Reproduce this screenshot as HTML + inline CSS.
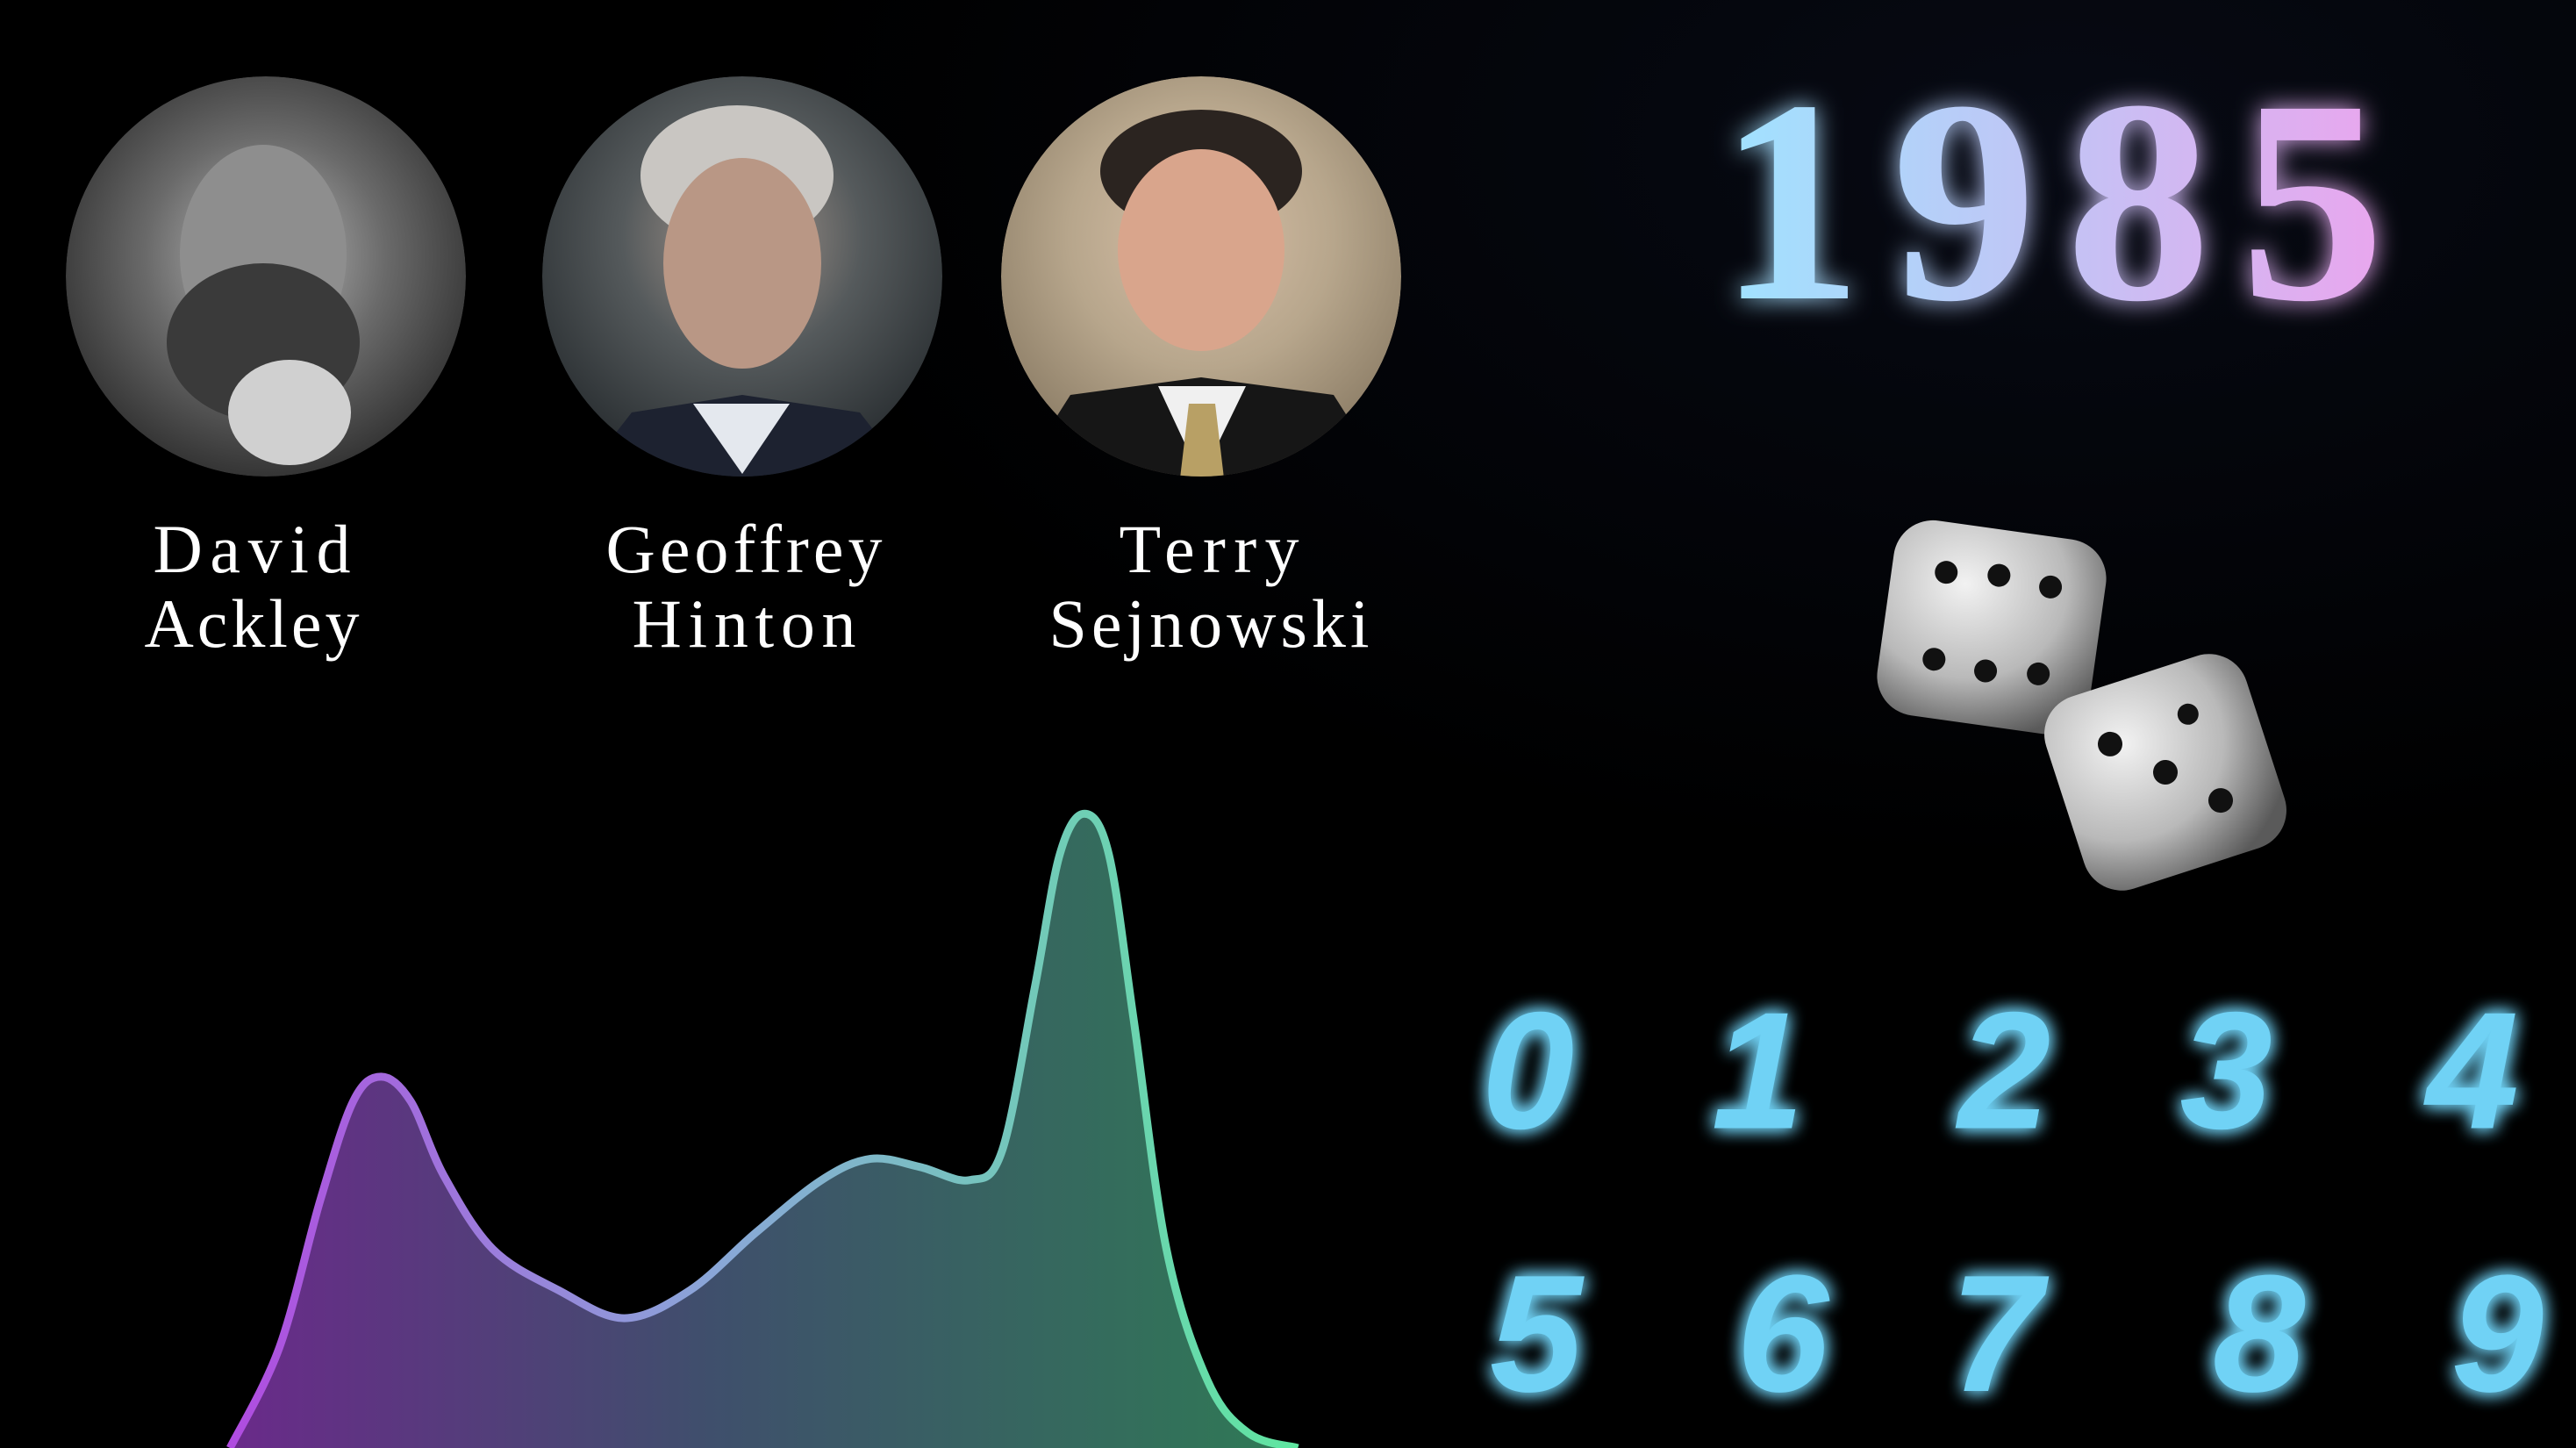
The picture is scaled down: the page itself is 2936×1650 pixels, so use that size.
<!DOCTYPE html>
<html><head><meta charset="utf-8">
<style>
html,body{margin:0;padding:0;background:#000;}
body{width:2936px;height:1650px;overflow:hidden;position:relative;font-family:"Liberation Serif",serif;}
svg{position:absolute;left:0;top:0;}
</style></head>
<body>
<svg width="2936" height="1650" viewBox="0 0 2936 1650">
<defs>
  <radialGradient id="bgGlow" cx="0.8" cy="0.1" r="0.5">
    <stop offset="0" stop-color="#070a14"/><stop offset="1" stop-color="#000"/>
  </radialGradient>
  <linearGradient id="yearGrad" x1="0" x2="1" y1="0" y2="0">
    <stop offset="0" stop-color="#9fe3ff"/><stop offset="0.5" stop-color="#c2c4f5"/><stop offset="1" stop-color="#e9a6ee"/>
  </linearGradient>
  <filter id="glow" x="-30%" y="-30%" width="160%" height="160%">
    <feGaussianBlur stdDeviation="14" result="b"/>
    <feMerge><feMergeNode in="b"/><feMergeNode in="SourceGraphic"/></feMerge>
  </filter>
  <filter id="digitGlow" x="-40%" y="-40%" width="180%" height="180%">
    <feGaussianBlur stdDeviation="10" result="b"/>
    <feMerge><feMergeNode in="b"/><feMergeNode in="b"/><feMergeNode in="SourceGraphic"/></feMerge>
  </filter>
  <linearGradient id="lineGrad" x1="260" x2="1480" y1="0" y2="0" gradientUnits="userSpaceOnUse">
    <stop offset="0" stop-color="#b04be0"/><stop offset="0.45" stop-color="#8aa6d8"/><stop offset="1" stop-color="#5fe6a0"/>
  </linearGradient>
  <linearGradient id="fillGrad" x1="260" x2="1480" y1="0" y2="0" gradientUnits="userSpaceOnUse">
    <stop offset="0" stop-color="#6a2a8a"/><stop offset="0.45" stop-color="#3f4f6c"/><stop offset="1" stop-color="#2f7a55"/>
  </linearGradient>
  <radialGradient id="p1" cx="0.5" cy="0.45" r="0.6"><stop offset="0" stop-color="#bdbdbd"/><stop offset="0.5" stop-color="#6a6a6a"/><stop offset="1" stop-color="#2a2a2a"/></radialGradient>
  <radialGradient id="p2" cx="0.5" cy="0.4" r="0.6"><stop offset="0" stop-color="#a99a90"/><stop offset="0.5" stop-color="#555a5c"/><stop offset="1" stop-color="#2b3033"/></radialGradient>
  <radialGradient id="p3" cx="0.5" cy="0.4" r="0.6"><stop offset="0" stop-color="#d8c0a8"/><stop offset="0.55" stop-color="#b7a68c"/><stop offset="1" stop-color="#8e7f68"/></radialGradient>
  <radialGradient id="dieGrad" cx="0.35" cy="0.3" r="0.8"><stop offset="0" stop-color="#f2f2f2"/><stop offset="0.6" stop-color="#b9b9b9"/><stop offset="1" stop-color="#5a5a5a"/></radialGradient>
  <clipPath id="c1"><circle cx="303" cy="315" r="228"/></clipPath>
  <clipPath id="c2"><circle cx="846" cy="315" r="228"/></clipPath>
  <clipPath id="c3"><circle cx="1369" cy="315" r="228"/></clipPath>
</defs>
<rect width="2936" height="1650" fill="url(#bgGlow)"/>

<g clip-path="url(#c1)">
  <circle cx="303" cy="315" r="228" fill="url(#p1)"/>
  <ellipse cx="300" cy="290" rx="95" ry="125" fill="#8e8e8e"/>
  <ellipse cx="300" cy="390" rx="110" ry="90" fill="#3a3a3a"/>
  <ellipse cx="330" cy="470" rx="70" ry="60" fill="#d0d0d0"/>
</g>
<g clip-path="url(#c2)">
  <circle cx="846" cy="315" r="228" fill="url(#p2)"/>
  <ellipse cx="840" cy="200" rx="110" ry="80" fill="#c9c6c2"/>
  <ellipse cx="846" cy="300" rx="90" ry="120" fill="#b99785"/>
  <path d="M650 560 L720 470 L846 450 L980 470 L1050 560 Z" fill="#1d2230"/>
  <path d="M790 460 L846 540 L900 460 Z" fill="#e4e8ee"/>
</g>
<g clip-path="url(#c3)">
  <circle cx="1369" cy="315" r="228" fill="url(#p3)"/>
  <ellipse cx="1369" cy="195" rx="115" ry="70" fill="#2b2420"/>
  <ellipse cx="1369" cy="285" rx="95" ry="115" fill="#d9a58c"/>
  <path d="M1150 560 L1220 450 L1369 430 L1520 450 L1590 560 Z" fill="#161616"/>
  <path d="M1320 440 L1369 545 L1420 440 Z" fill="#f0f0f0"/>
  <path d="M1355 460 L1385 460 L1395 545 L1345 545 Z" fill="#b8a065"/>
</g>

<g fill="#fff" font-family="'Liberation Serif',serif" font-size="78" text-anchor="middle">
  <text x="287" y="652" textLength="225">David</text>
  <text x="287" y="737" textLength="245">Ackley</text>
  <text x="848" y="652" textLength="315">Geoffrey</text>
  <text x="848" y="737" textLength="255">Hinton</text>
  <text x="1378" y="652" textLength="205">Terry</text>
  <text x="1378" y="737" textLength="365">Sejnowski</text>
</g>

<text x="1958" y="340" textLength="760" lengthAdjust="spacing" font-family="'Liberation Serif',serif" font-weight="bold" font-size="330" fill="url(#yearGrad)" filter="url(#glow)">1985</text>

<g transform="translate(2270,715) rotate(8)">
  <rect x="-122" y="-112" width="244" height="224" rx="45" fill="url(#dieGrad)"/>
  <g fill="#111">
    <circle cx="-60" cy="-55" r="13"/><circle cx="0" cy="-60" r="13"/><circle cx="60" cy="-55" r="13"/>
    <circle cx="-60" cy="45" r="13"/><circle cx="0" cy="50" r="13"/><circle cx="60" cy="45" r="13"/>
  </g>
</g>
<g transform="translate(2468,880) rotate(-18)">
  <rect x="-120" y="-115" width="240" height="230" rx="45" fill="url(#dieGrad)"/>
  <g fill="#111">
    <circle cx="-50" cy="-50" r="14"/><circle cx="0" cy="0" r="14"/><circle cx="50" cy="50" r="14"/>
    <circle cx="45" cy="-55" r="12"/>
  </g>
</g>

<g id="digits" fill="#6fd2f5" font-family="'Liberation Sans',sans-serif" font-style="italic" font-weight="bold" font-size="190" text-anchor="middle" filter="url(#digitGlow)"></g>

<g id="chart"></g>
</svg>
<script>
const xs = [140,170,195,215,232,250,270,300,340,380,420,460,500,530,560,590,610,630,645,660,675,690,710,735,760,790];
const heights = [0,61,151,211,226,211,166,121,96,79,96,131,163,176,171,163,181,281,361,386,361,261,121,41,9,0];
const digitLabels = ['0','1','2','3','4','5','6','7','8','9'];
const digitCols = [930,1070,1220,1355,1505,935,1085,1215,1375,1520];
const digitRows = [650,650,650,650,650,810,810,810,810,810];

const S = 1.8725;
const xScale = v => v * S;
const yScale = h => 1650 - h * S;
const NS = 'http://www.w3.org/2000/svg';

function smoothPath(pts){
  let d = `M${pts[0][0]},${pts[0][1]}`;
  for(let i=0;i<pts.length-1;i++){
    const p0=pts[Math.max(0,i-1)],p1=pts[i],p2=pts[i+1],p3=pts[Math.min(pts.length-1,i+2)];
    const c1x=p1[0]+(p2[0]-p0[0])/6,c1y=p1[1]+(p2[1]-p0[1])/6;
    const c2x=p2[0]-(p3[0]-p1[0])/6,c2y=p2[1]-(p3[1]-p1[1])/6;
    d+=` C${c1x},${c1y} ${c2x},${c2y} ${p2[0]},${p2[1]}`;
  }
  return d;
}
const pts = xs.map((x,i)=>[xScale(x), yScale(heights[i])]);
const line = smoothPath(pts);
const chart = document.getElementById('chart');
const area = document.createElementNS(NS,'path');
area.setAttribute('d', line + ` L${pts[pts.length-1][0]},1650 L${pts[0][0]},1650 Z`);
area.setAttribute('fill','url(#fillGrad)');


chart.appendChild(area);
const ln = document.createElementNS(NS,'path');
ln.setAttribute('d', line);
ln.setAttribute('fill','none');
ln.setAttribute('stroke','url(#lineGrad)');
ln.setAttribute('stroke-width','9');


chart.appendChild(ln);

const dg = document.getElementById('digits');
digitLabels.forEach((t,i)=>{
  const el = document.createElementNS(NS,'text');
  el.setAttribute('x', xScale(digitCols[i]));
  el.setAttribute('y', yScale(881 - digitRows[i]) + 68);
  el.textContent = t;
  
  
  dg.appendChild(el);
});
</script>
</body></html>
